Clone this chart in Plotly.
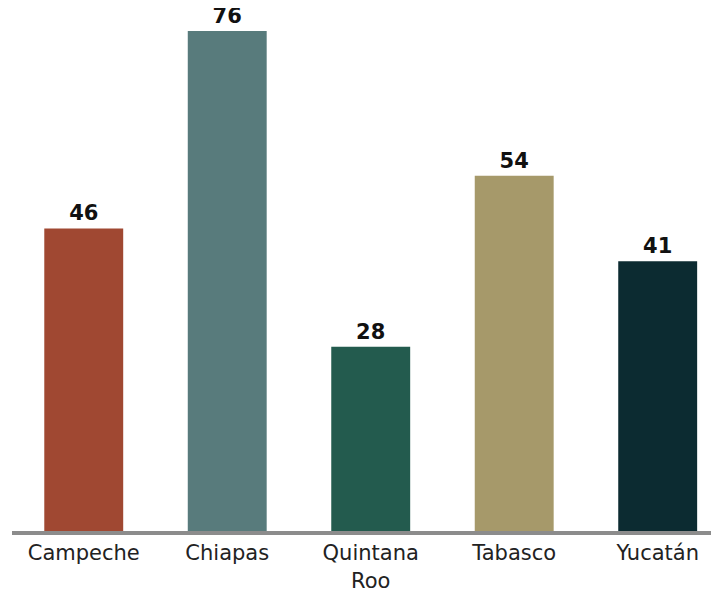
import plotly.graph_objects as go

estados = ["Campeche", "Chiapas", "Quintana<br>Roo", "Tabasco", "Yucatán"]
valores = [46, 76, 28, 54, 41]
colores = ["#A04832", "#587B7C", "#235B4E", "#A6996A", "#0C2B31"]

fig = go.Figure(go.Bar(
    x=estados, y=valores,
    marker=dict(color=colores, line=dict(width=0)),
    text=[str(v) for v in valores],
    textposition="outside",
    textfont=dict(family="DejaVu Sans", size=21, color="#111111", weight="bold"),
    cliponaxis=False,
    width=0.55,
))
fig.update_layout(
    width=719, height=592,
    margin=dict(l=4, r=0, t=4, b=69),
    paper_bgcolor="white", plot_bgcolor="white",
    showlegend=False,
    font=dict(family="DejaVu Sans", size=21, color="#222222"),
)
fig.update_xaxes(range=[-0.5, 4.483], showline=True, linewidth=4, linecolor="#8c8c8c",
                 ticks="", showgrid=False, tickfont=dict(size=21, color="#222222"))
fig.update_yaxes(range=[0, 78.9], visible=False, showgrid=False)
fig.write_html("out.html")
